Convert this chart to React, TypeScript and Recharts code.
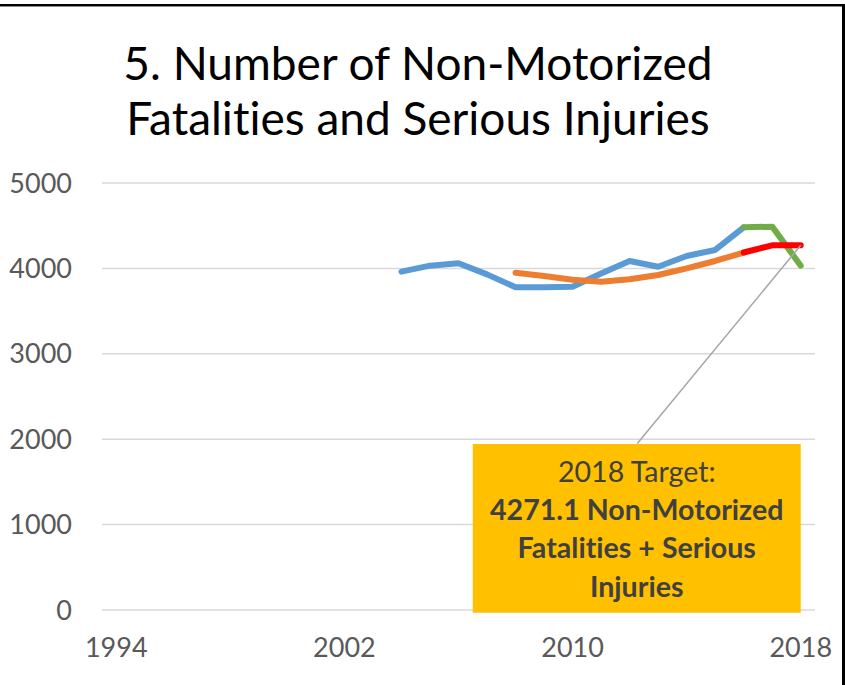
import React from 'react';
import { LineChart, Line, XAxis, YAxis, CartesianGrid, ReferenceArea, ReferenceLine } from 'recharts';

const years = [1994, 1995, 1996, 1997, 1998, 1999, 2000, 2001, 2002, 2003, 2004, 2005, 2006, 2007, 2008, 2009, 2010, 2011, 2012, 2013, 2014, 2015, 2016, 2017, 2018];
const actual = [null, null, null, null, null, null, null, null, null, null, 3962, 4032, 4060, 3930, 3779, 3780, 3786, 3940, 4087, 4020, 4145, 4216, 4481, null, null];
const projected = [null, null, null, null, null, null, null, null, null, null, null, null, null, null, null, null, null, null, null, null, null, null, 4481, 4489, 4032];
const fiveYearAvg = [null, null, null, null, null, null, null, null, null, null, null, null, null, null, 3950, 3911, 3866, 3843, 3872, 3923, 4001, 4087, 4186, null, null];
const target = [null, null, null, null, null, null, null, null, null, null, null, null, null, null, null, null, null, null, null, null, null, null, 4186, 4270, 4271.1];
const xTicks = [1994, 2002, 2010, 2018];
const yTicks = [0, 1000, 2000, 3000, 4000, 5000];
const titleLines = ['5. Number of Non-Motorized', 'Fatalities and Serious Injuries'];
const boxLines = ['2018 Target:', '4271.1 Non-Motorized', 'Fatalities + Serious', 'Injuries'];

const data = years.map((y, i) => ({
  year: y,
  actual: actual[i],
  projected: projected[i],
  avg: fiveYearAvg[i],
  target: target[i],
}));

const FONT = 'Lato, "Open Sans", sans-serif';

const BoxLabel = (props: any) => {
  const vb = props.viewBox || {};
  const cx = vb.x + vb.width / 2;
  const top = vb.y;
  return (
    <g>
      {boxLines.map((t, i) => (
        <text
          key={i}
          x={cx}
          y={top + 38 + i * 38.3}
          textAnchor="middle"
          fontFamily={FONT}
          fontSize={28.6}
          fontWeight={i === 0 ? 400 : 700}
          fill="#404040"
        >
          {t}
        </text>
      ))}
    </g>
  );
};

export default function App() {
  return (
    <div style={{ position: 'absolute', left: 0, top: 0, width: 845, height: 685, background: '#fff', fontVariantLigatures: 'none', fontFeatureSettings: '"liga" 0, "clig" 0' }}>
      <LineChart
        width={845}
        height={685}
        data={data}
        margin={{ top: 183, right: 30, left: 0, bottom: 0 }}
      >
        <CartesianGrid vertical={false} stroke="#D9D9D9" strokeWidth={1.5} />
        <XAxis
          dataKey="year"
          type="number"
          domain={[1993.5, 2018.5]}
          ticks={xTicks}
          axisLine={false}
          tickLine={false}
          tickSize={0}
          tickMargin={28}
          height={75}
          tick={{ fill: '#595959', fontSize: 27, fontFamily: FONT }}
          interval={0}
        />
        <YAxis
          domain={[0, 5000]}
          ticks={yTicks}
          axisLine={false}
          tickLine={false}
          tickSize={0}
          tickMargin={30}
          width={102}
          tick={{ fill: '#595959', fontSize: 27, fontFamily: FONT }}
          interval={0}
        />
        <ReferenceArea
          x1={2006.5}
          x2={2018.0}
          y1={-32}
          y2={1945}
          fill="#FFC000"
          fillOpacity={1}
          stroke="none"
          ifOverflow="visible"
          label={<BoxLabel />}
        />
        <Line dataKey="actual" stroke="#5B9BD5" strokeWidth={6} dot={false} strokeLinecap="round" strokeLinejoin="round" isAnimationActive={false} />
        <Line dataKey="projected" stroke="#70AD47" strokeWidth={6} dot={false} strokeLinecap="round" strokeLinejoin="round" isAnimationActive={false} />
        <Line dataKey="avg" stroke="#ED7D31" strokeWidth={6} dot={false} strokeLinecap="round" strokeLinejoin="round" isAnimationActive={false} />
        <Line dataKey="target" stroke="#FF0000" strokeWidth={6} dot={false} strokeLinecap="round" strokeLinejoin="round" isAnimationActive={false} />
        <ReferenceLine
          segment={[{ x: 2018, y: 4271.1 }, { x: 2012.27, y: 1950 }]}
          stroke="#A6A6A6"
          strokeWidth={1.5}
          ifOverflow="visible"
        />
      </LineChart>
      <svg width={845} height={685} style={{ position: 'absolute', left: 0, top: 0, pointerEvents: 'none' }}>
        {titleLines.map((t, i) => (
          <text key={i} x={418} y={80 + i * 55} textAnchor="middle" fontFamily={FONT} fontSize={46} fill="#000">
            {t}
          </text>
        ))}
        <rect x={0} y={4} width={845} height={2} fill="#000" />
        <rect x={0} y={6} width={845} height={1} fill="#888" />
        <rect x={842} y={4} width={3} height={681} fill="#000" />
      </svg>
    </div>
  );
}
